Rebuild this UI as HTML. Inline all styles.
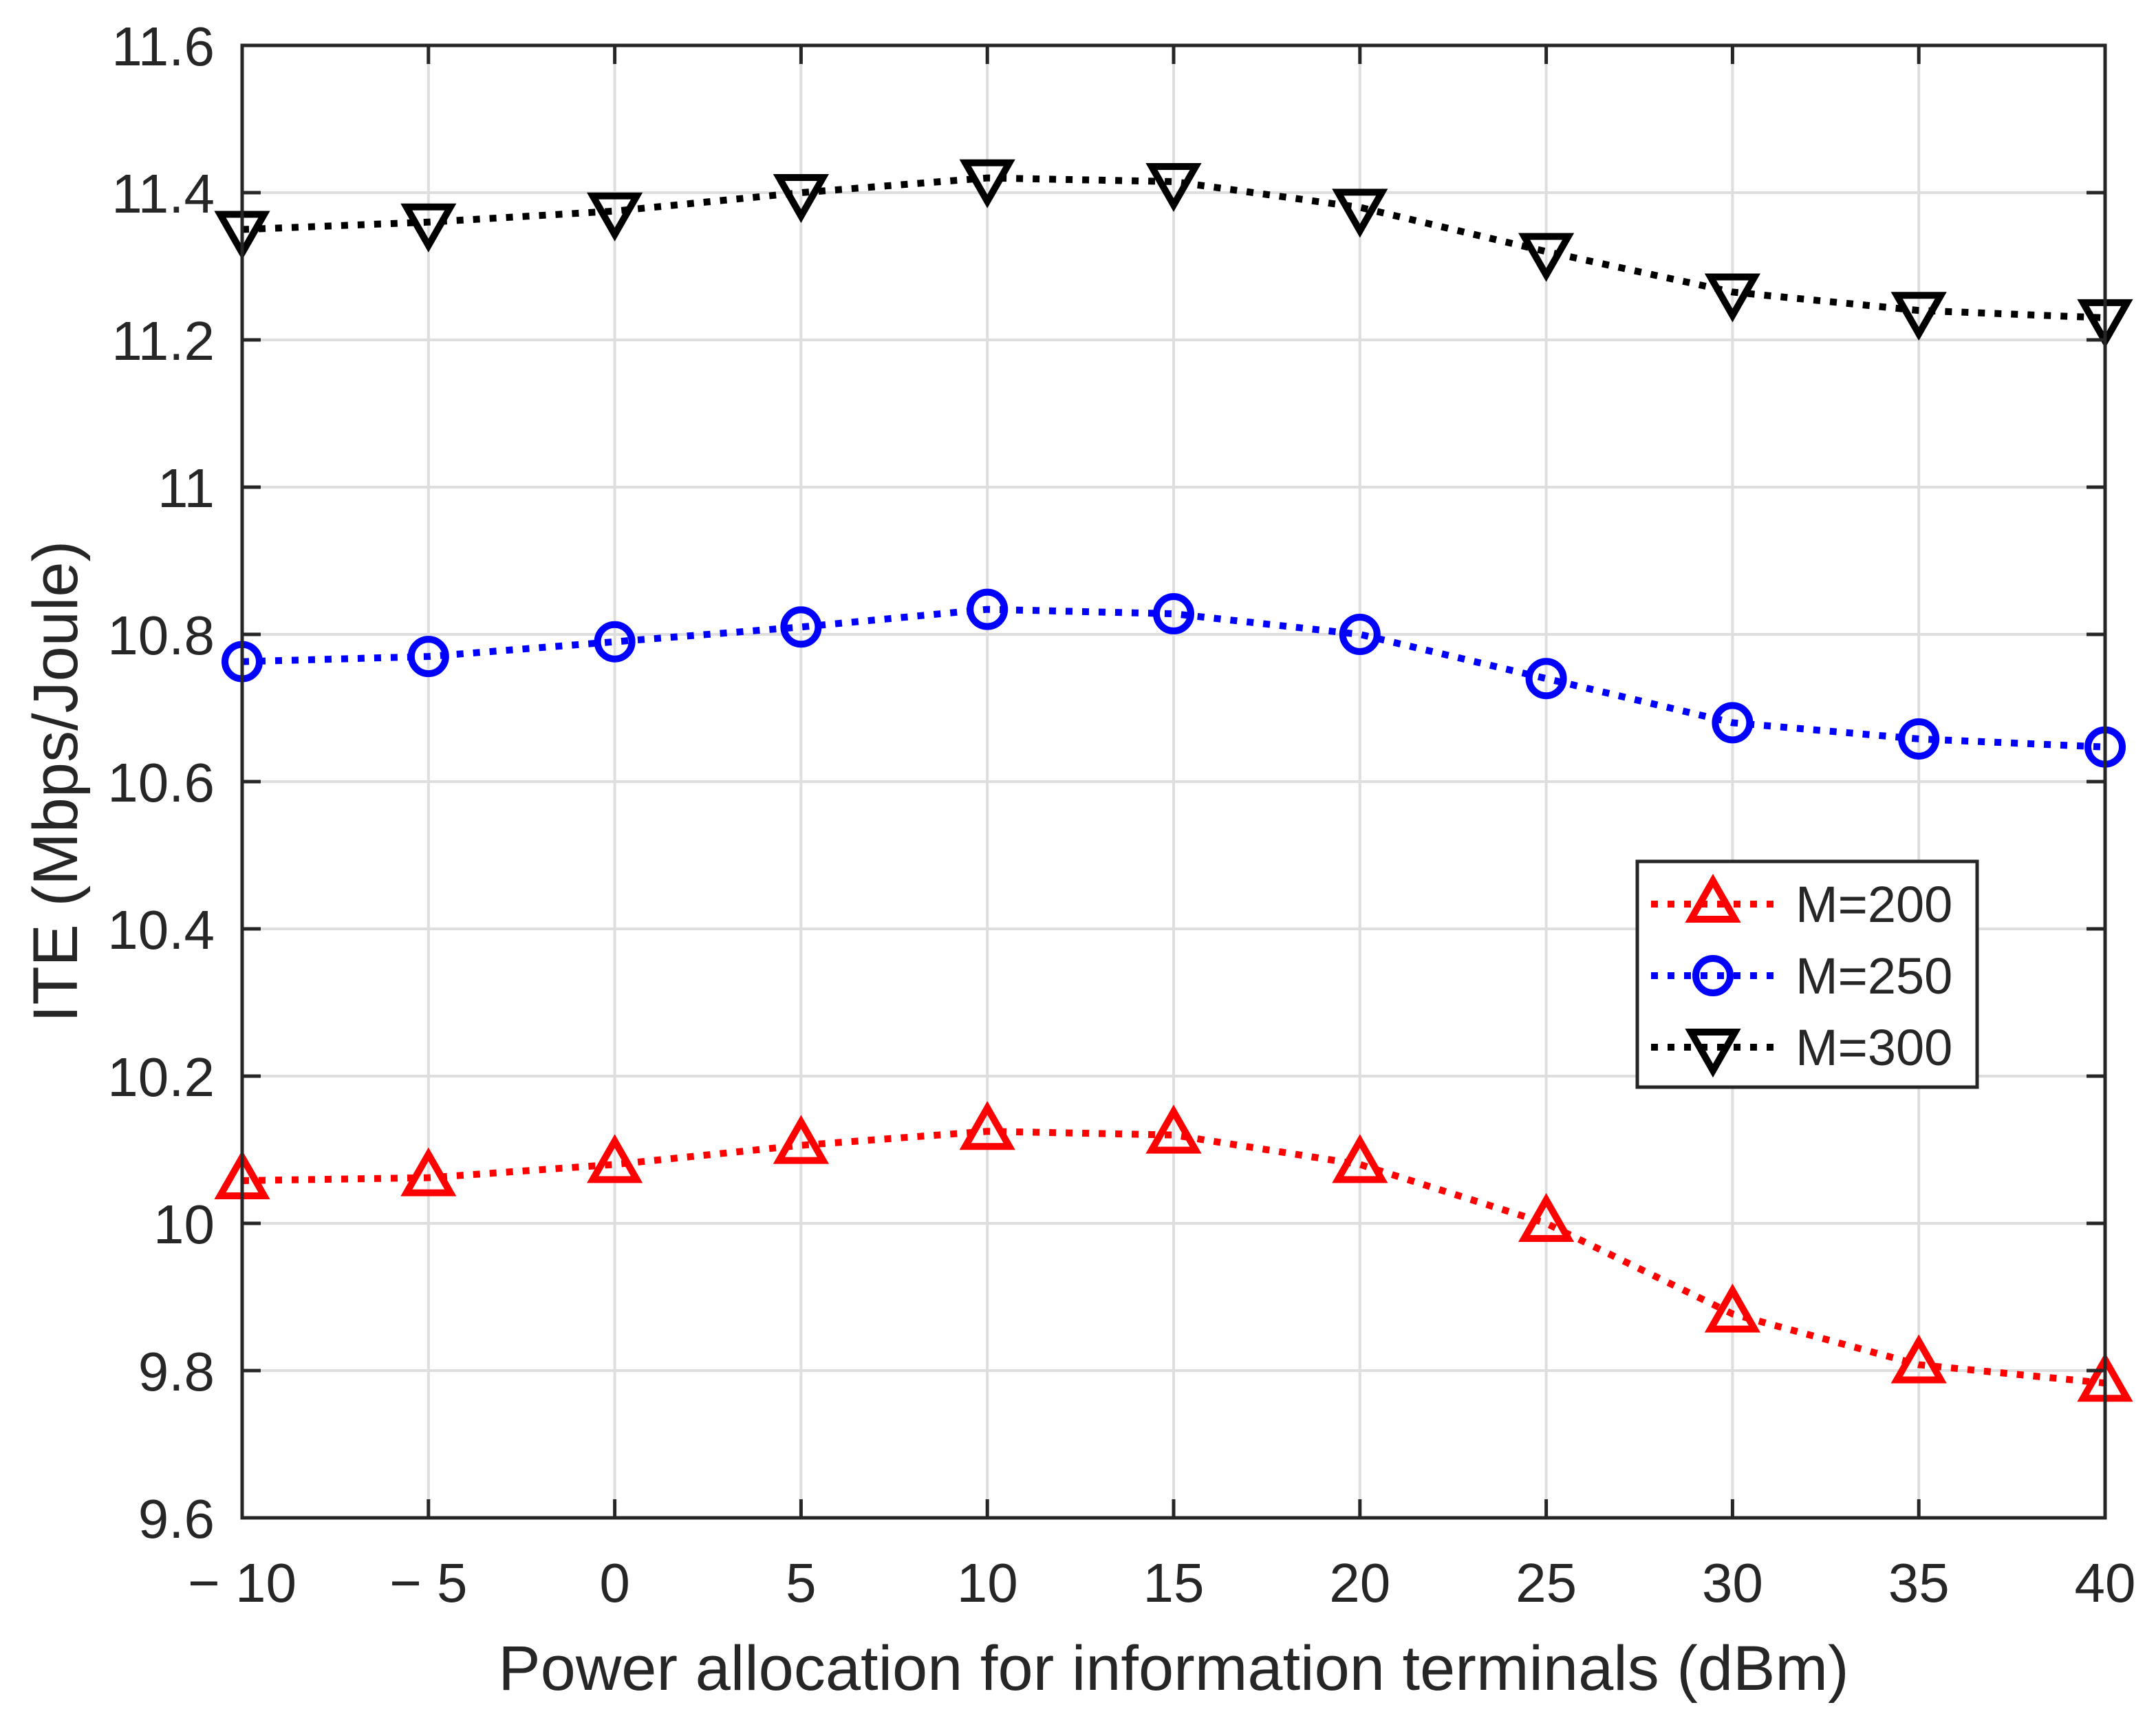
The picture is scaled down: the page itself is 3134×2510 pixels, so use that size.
<!DOCTYPE html>
<html><head><meta charset="utf-8"><style>body{margin:0;background:#fff}svg{display:block}text{font-family:"Liberation Sans",Arial,sans-serif;fill:#262626}</style></head>
<body>
<svg id="chart" width="3134" height="2510" viewBox="0 0 3134 2510" xmlns="http://www.w3.org/2000/svg">
<rect width="3134" height="2510" fill="#fff"/>
<g id="grid"></g>
<g id="series"></g>
<g id="axes"></g>
<text x="80" y="1136" font-size="92" text-anchor="middle" transform="rotate(-90 80 1136)" dy="32">ITE (Mbps/Joule)</text>
<text x="1706" y="2456" font-size="92" text-anchor="middle">Power allocation for information terminals (dBm)</text>
<g id="legend"></g>
</svg>
<script>
const xValues = [-10,-5,0,5,10,15,20,25,30,35,40];
const xTickLabels = ['\u2212 10','\u2212 5','0','5','10','15','20','25','30','35','40'];
const yTicks = [9.6,9.8,10,10.2,10.4,10.6,10.8,11,11.2,11.4,11.6];
const yTickLabels = ['9.6','9.8','10','10.2','10.4','10.6','10.8','11','11.2','11.4','11.6'];
const seriesNames = ['M=200','M=250','M=300'];
const m200 = [10.058,10.062,10.08,10.106,10.125,10.12,10.08,10.0,9.877,9.808,9.783];
const m250 = [10.763,10.77,10.79,10.81,10.834,10.828,10.80,10.74,10.68,10.658,10.647];
const m300 = [11.35,11.36,11.375,11.40,11.42,11.415,11.38,11.32,11.265,11.24,11.23];

const NS='http://www.w3.org/2000/svg';
const L=352,R=3060,T=66,B=2206;
const xs=v=>L+(v+10)/50*(R-L);
const ys=v=>B-(v-9.6)/2*(B-T);
function mk(tag,attrs,parent){const e=document.createElementNS(NS,tag);for(const k in attrs)e.setAttribute(k,attrs[k]);parent.appendChild(e);return e;}
const grid=document.getElementById('grid'),axes=document.getElementById('axes'),ser=document.getElementById('series'),leg=document.getElementById('legend');
xValues.forEach((v,i)=>{
  const g=mk('line',{x1:xs(v),x2:xs(v),y1:T,y2:B,stroke:'#dedede','stroke-width':4},grid);
  
  
  const t=mk('line',{x1:xs(v),x2:xs(v),y1:B,y2:B-27,stroke:'#262626','stroke-width':5},axes);
  
  
  const t2=mk('line',{x1:xs(v),x2:xs(v),y1:T,y2:T+27,stroke:'#262626','stroke-width':5},axes);
  
  
  const tx=mk('text',{x:xs(v),y:2328,'font-size':80,'text-anchor':'middle'},axes);
  tx.textContent=xTickLabels[i];
  
  
});
yTicks.forEach((v,i)=>{
  const g=mk('line',{x1:L,x2:R,y1:ys(v),y2:ys(v),stroke:'#dedede','stroke-width':4},grid);
  
  
  const t=mk('line',{x1:L,x2:L+27,y1:ys(v),y2:ys(v),stroke:'#262626','stroke-width':5},axes);
  
  
  const t2=mk('line',{x1:R,x2:R-27,y1:ys(v),y2:ys(v),stroke:'#262626','stroke-width':5},axes);
  
  
  const tx=mk('text',{x:312,y:ys(v)+29,'font-size':80,'text-anchor':'end'},axes);
  tx.textContent=yTickLabels[i];
  
  
});
const box=mk('rect',{x:L,y:T,width:R-L,height:B-T,fill:'none',stroke:'#262626','stroke-width':5},axes);



function marker(type,cx,cy,color,parent){
  let e;
  if(type==='up') e=mk('polygon',{points:`${cx},${cy-34} ${cx-32},${cy+22} ${cx+32},${cy+22}`,fill:'none',stroke:color,'stroke-width':10},parent);
  else if(type==='down') e=mk('polygon',{points:`${cx},${cy+34} ${cx-32},${cy-22} ${cx+32},${cy-22}`,fill:'none',stroke:color,'stroke-width':10},parent);
  else e=mk('circle',{cx:cx,cy:cy,r:25,fill:'none',stroke:color,'stroke-width':10},parent);
  return e;
}
const defs=[[m200,'#ff0000','up'],[m250,'#0000ff','circle'],[m300,'#000000','down']];
defs.forEach((d,si)=>{
  const g=mk('g',{},ser);
  
  
  const pts=d[0].map((v,i)=>xs(xValues[i])+','+ys(v)).join(' ');
  const pl=mk('polyline',{points:pts,fill:'none',stroke:d[1],'stroke-width':10,'stroke-dasharray':'10 14'},g);
  
  
  d[0].forEach((v,i)=>{
    const m=marker(d[2],xs(xValues[i]),ys(v),d[1],g);
    
    
  });
});
const lb=mk('rect',{x:2380,y:1252,width:494,height:328,fill:'#fff',stroke:'#262626','stroke-width':5},leg);


defs.forEach((d,si)=>{
  const y=1314+si*104;
  const g=mk('g',{},leg);
  
  
  mk('line',{x1:2400,x2:2580,y1:y,y2:y,stroke:d[1],'stroke-width':10,'stroke-dasharray':'10 14'},g);
  marker(d[2],2490,y,d[1],g);
  const t=mk('text',{x:2610,y:y+26,'font-size':74,fill:'#000'},g);
  t.textContent=seriesNames[si];
});
</script>
</body></html>
